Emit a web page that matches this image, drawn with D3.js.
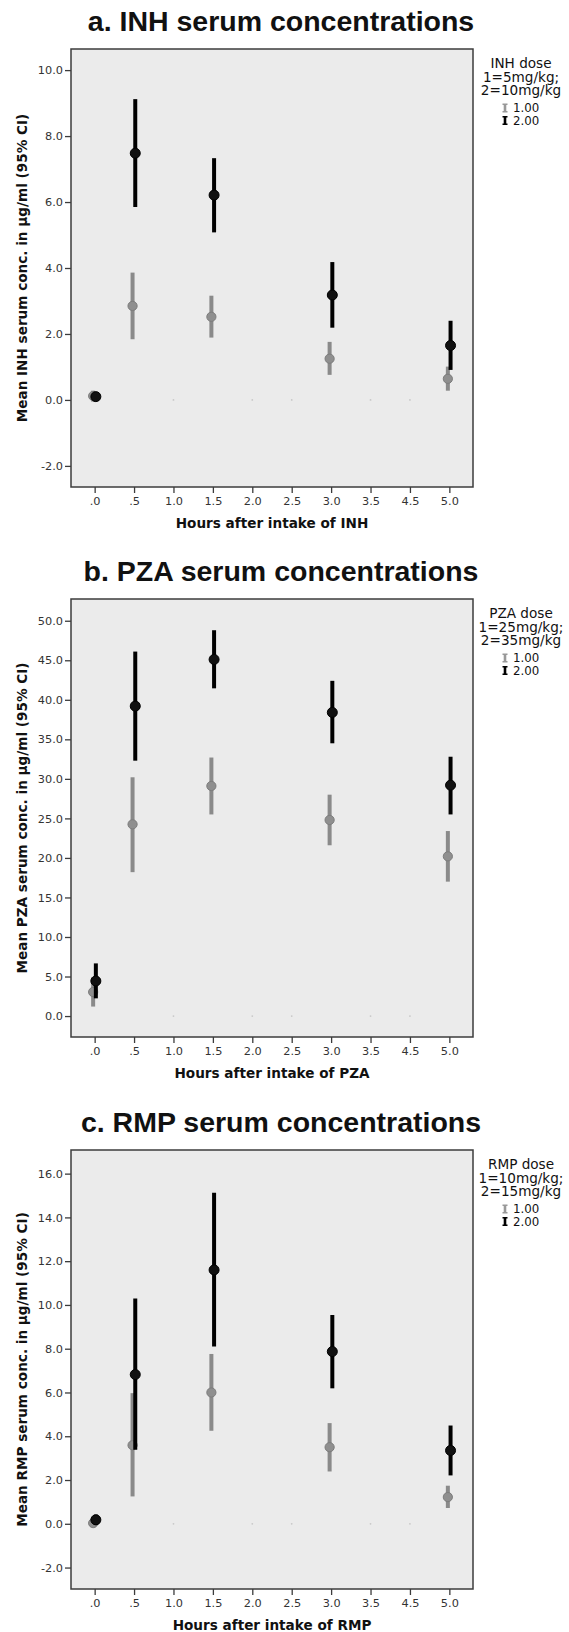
<!DOCTYPE html>
<html>
<head>
<meta charset="utf-8">
<script src="https://cdn.jsdelivr.net/npm/d3@7"></script>
<style>
  body { margin: 0; background: #fff; }
  svg text { font-family: "Liberation Sans", Arial, sans-serif; }
  .tick-lbl { font-family: "DejaVu Sans", sans-serif; font-size: 11.3px; fill: #333; }
  .axis-title { font-family: "DejaVu Sans", sans-serif; font-size: 13.6px; font-weight: bold; fill: #111; }
  .legend text { font-family: "DejaVu Sans", sans-serif; fill: #111; }
</style>
</head>
<body>
<div id="chart"></div>
<script>
// categories on the x axis (SPSS puts every observed hour as its own category)
const hourCats = ['.0', '.5', '1.0', '1.5', '2.0', '2.5', '3.0', '3.5', '4.5', '5.0'];
const sampleHours = ['.0', '.5', '1.5', '3.0', '5.0'];
const emptyHours = ['1.0', '2.0', '2.5', '3.5', '4.5'];
const doseLabels = ['1.00', '2.00'];

// INH, ug/ml
const inhLowMean = [0.12, 2.85, 2.52, 1.25, 0.64];
const inhLowLo = [-0.05, 1.84, 1.89, 0.76, 0.28];
const inhLowHi = [0.28, 3.86, 3.16, 1.76, 1.01];
const inhHighMean = [0.10, 7.48, 6.21, 3.18, 1.65];
const inhHighLo = [0.05, 5.85, 5.08, 2.19, 0.91];
const inhHighHi = [0.15, 9.12, 7.33, 4.18, 2.40];

// PZA
const pzaLowMean = [3.04, 24.25, 29.1, 24.8, 20.2];
const pzaLowLo = [1.2, 18.2, 25.5, 21.6, 17.0];
const pzaLowHi = [4.9, 30.2, 32.7, 28.0, 23.4];
const pzaHighMean = [4.43, 39.2, 45.1, 38.4, 29.2];
const pzaHighLo = [2.24, 32.3, 41.45, 34.5, 25.5];
const pzaHighHi = [6.66, 46.1, 48.8, 42.4, 32.8];

// RMP
const rmpLowMean = [0.03, 3.59, 6.0, 3.5, 1.22];
const rmpLowLo = [-0.05, 1.25, 4.25, 2.39, 0.72];
const rmpLowHi = [0.1, 5.97, 7.76, 4.6, 1.74];
const rmpHighMean = [0.18, 6.82, 11.6, 7.87, 3.35];
const rmpHighLo = [-0.05, 3.38, 8.1, 6.19, 2.21];
const rmpHighHi = [0.42, 10.29, 15.13, 9.54, 4.49];

const inhTicks = d3.range(-2, 10.1, 2);
const pzaTicks = d3.range(0, 50.1, 5);
const rmpTicks = d3.range(-2, 16.1, 2);

const panels = [
    {
        title: 'a. INH serum concentrations', drug: 'INH',
        dose: ['1=5mg/kg;', '2=10mg/kg'],
        top: 49, bottom: 487, domain: [-2.64, 10.64], ticks: inhTicks,
        low: [inhLowMean, inhLowLo, inhLowHi], high: [inhHighMean, inhHighLo, inhHighHi]
    },
    {
        title: 'b. PZA serum concentrations', drug: 'PZA',
        dose: ['1=25mg/kg;', '2=35mg/kg'],
        top: 599, bottom: 1037, domain: [-2.65, 52.75], ticks: pzaTicks,
        low: [pzaLowMean, pzaLowLo, pzaLowHi], high: [pzaHighMean, pzaHighLo, pzaHighHi]
    },
    {
        title: 'c. RMP serum concentrations', drug: 'RMP',
        dose: ['1=10mg/kg;', '2=15mg/kg'],
        top: 1150, bottom: 1589, domain: [-2.98, 17.08], ticks: rmpTicks,
        low: [rmpLowMean, rmpLowLo, rmpLowHi], high: [rmpHighMean, rmpHighLo, rmpHighHi]
    }
];

const W = 569, H = 1632;
const boxL = 71, boxR = 473;
const grey = '#8a8a8a', black = '#000';

let svg = d3.select('#chart')
    .append('svg')
    .attr('width', W)
    .attr('height', H);

let x = d3.scalePoint()
    .domain(hourCats)
    .range([boxL, boxR])
    .padding(0.6);

panels.forEach(p => {
    let y = d3.scaleLinear()
        .domain(p.domain)
        .range([p.bottom, p.top]);

    let g = svg.append('g');

    g.append('text')
        .attr('x', 281)
        .attr('y', p.top - 18)
        .attr('text-anchor', 'middle')
        .style('font-size', '28.5px')
        .style('font-weight', 'bold')
        .style('fill', '#111')
        .text(p.title);

    g.append('rect')
        .attr('x', boxL)
        .attr('y', p.top)
        .attr('width', boxR - boxL)
        .attr('height', p.bottom - p.top)
        .style('fill', '#ebebeb')
        .style('stroke', '#3c3c3c')
        .style('stroke-width', 1.5);

    // axes
    let yAxis = g.append('g')
        .attr('transform', 'translate(' + boxL + ',0)')
        .call(d3.axisLeft(y).tickValues(p.ticks).tickSize(6).tickPadding(2).tickFormat(d => d.toFixed(1)));
    let xAxis = g.append('g')
        .attr('transform', 'translate(0,' + p.bottom + ')')
        .call(d3.axisBottom(x).tickSize(6).tickPadding(4));
    [yAxis, xAxis].forEach(a => {
        a.select('.domain').remove();
        a.selectAll('.tick line').style('stroke', '#3c3c3c').style('stroke-width', 1.3);
        a.selectAll('.tick text').attr('class', 'tick-lbl').attr('fill', null);
        a.attr('font-size', null).attr('font-family', null);
    });

    g.append('text')
        .attr('class', 'axis-title')
        .attr('x', (boxL + boxR) / 2)
        .attr('y', p.bottom + 41)
        .attr('text-anchor', 'middle')
        .text('Hours after intake of ' + p.drug);

    g.append('text')
        .attr('class', 'axis-title')
        .attr('transform', 'translate(27,' + (p.top + p.bottom) / 2 + ') rotate(-90)')
        .attr('text-anchor', 'middle')
        .text('Mean ' + p.drug + ' serum conc. in µg/ml (95% CI)');

    // empty categories show as faint specks on zero
    g.selectAll('.speck')
        .data(emptyHours)
        .enter()
        .append('circle')
        .attr('cx', d => x(d))
        .attr('cy', y(0))
        .attr('r', 0.9)
        .style('fill', '#c8c8c8');

    // error bars, dose 1 (grey) then dose 2 (black)
    [[p.low, grey, -1.5, 4.6], [p.high, black, 1.2, 5]].forEach(s => {
        let [vals, col, off, r] = s;
        let rows = sampleHours.map((h, i) => ({ h: h, m: vals[0][i], lo: vals[1][i], hi: vals[2][i] }));
        let sg = g.append('g');
        sg.selectAll('line')
            .data(rows)
            .enter()
            .append('line')
            .attr('x1', d => x(d.h) + off)
            .attr('x2', d => x(d.h) + off)
            .attr('y1', d => y(d.lo))
            .attr('y2', d => y(d.hi))
            .style('stroke', col)
            .style('stroke-width', 4);
        sg.selectAll('circle')
            .data(rows)
            .enter()
            .append('circle')
            .attr('cx', d => x(d.h) + off)
            .attr('cy', d => y(d.m))
            .attr('r', r)
            .style('fill', col === black ? '#111' : '#8f8f8f')
            .style('stroke', col === black ? '#000' : '#7c7c7c')
            .style('stroke-width', 1);
    });

    // legend
    let lg = g.append('g').attr('class', 'legend');
    [p.drug + ' dose'].concat(p.dose).forEach((t, i) => {
        lg.append('text')
            .attr('x', 521)
            .attr('y', p.top + 19 + i * 13.5)
            .attr('text-anchor', 'middle')
            .style('font-size', '13.6px')
            .text(t);
    });
    doseLabels.forEach((t, i) => {
        let cy = p.top + 59 + i * 12.5;
        let col = i === 0 ? '#999' : '#000';
        lg.append('path')
            .attr('d', 'M502.5,' + (cy - 4.5) + 'h5v1.5h-1.2v6h1.2v1.5h-5v-1.5h1.2v-6h-1.2z')
            .style('fill', col);
        lg.append('text')
            .attr('x', 513)
            .attr('y', cy + 4)
            .style('font-size', '11.8px')
            .text(t);
    });
});
</script>
</body>
</html>
